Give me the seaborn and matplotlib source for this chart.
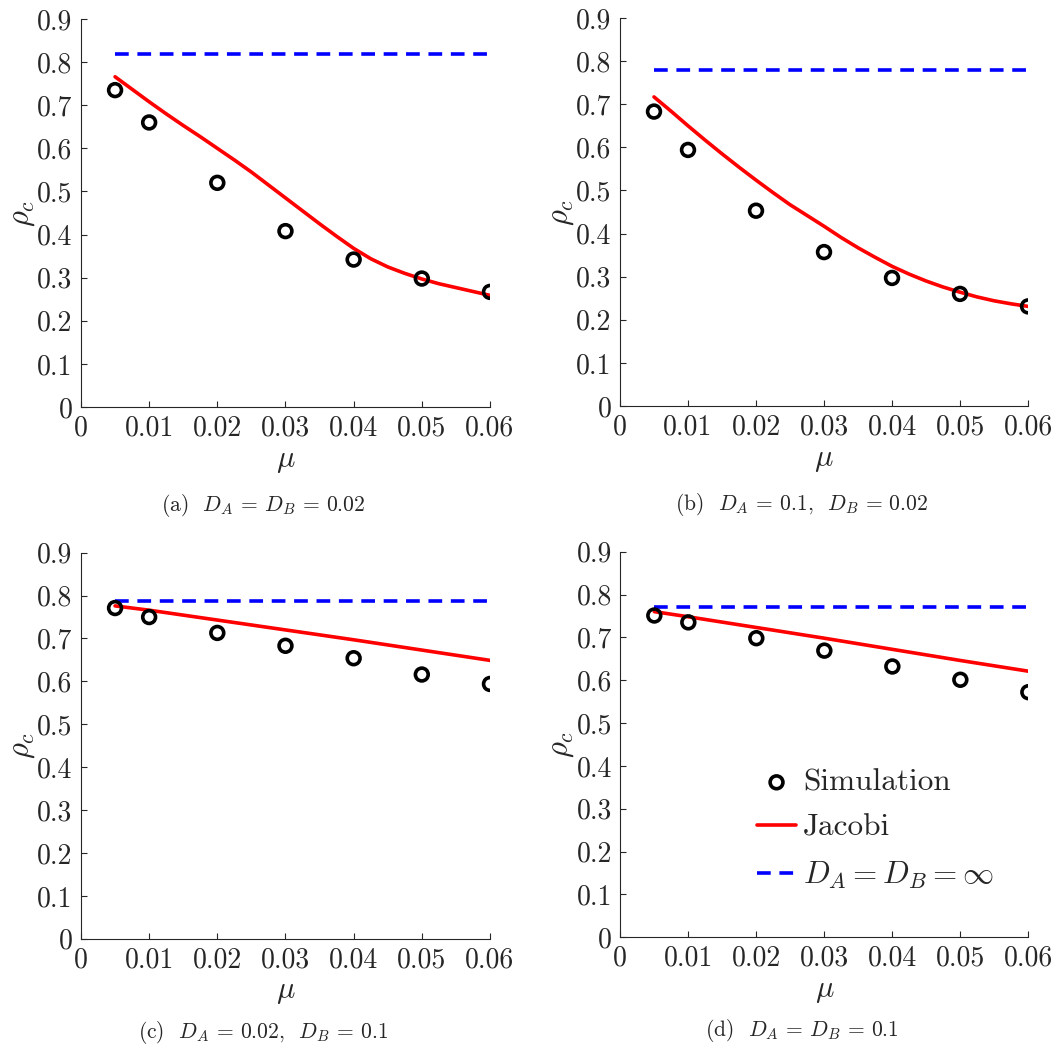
import numpy as np
import pandas as pd
import matplotlib
matplotlib.use("Agg")
import matplotlib.pyplot as plt
import seaborn as sns

sns.set_style("ticks")
plt.rcParams["font.family"] = ["cmr10", "DejaVu Serif"]
plt.rcParams["mathtext.fontset"] = "cm"
plt.rcParams["axes.formatter.use_mathtext"] = True

# mutation rate values of the simulations
mu_sim = [0.005, 0.01, 0.02, 0.03, 0.04, 0.05, 0.06]

# simulation results
sim_a = [0.735, 0.660, 0.520, 0.408, 0.342, 0.298, 0.267]
sim_b = [0.683, 0.594, 0.453, 0.357, 0.297, 0.260, 0.231]
sim_c = [0.771, 0.750, 0.713, 0.683, 0.654, 0.616, 0.594]
sim_d = [0.751, 0.735, 0.698, 0.669, 0.632, 0.601, 0.572]

# Jacobi approximation curves
mu_ab_curve = [0.005, 0.0075, 0.010, 0.0125, 0.015, 0.0175, 0.020, 0.0225,
               0.025, 0.0275, 0.030, 0.0325, 0.035, 0.0375, 0.040, 0.0425,
               0.045, 0.0475, 0.050, 0.0525, 0.055, 0.0575, 0.060]
jac_a = [0.766, 0.737, 0.708, 0.680, 0.653, 0.627, 0.600, 0.573,
         0.545, 0.515, 0.485, 0.455, 0.425, 0.396, 0.368, 0.344,
         0.325, 0.310, 0.297, 0.286, 0.277, 0.268, 0.259]
jac_b = [0.717, 0.684, 0.650, 0.617, 0.585, 0.554, 0.524, 0.495,
         0.467, 0.442, 0.417, 0.391, 0.367, 0.345, 0.324, 0.306,
         0.290, 0.276, 0.264, 0.253, 0.244, 0.237, 0.231]
mu_cd_curve = [0.005, 0.01, 0.02, 0.03, 0.04, 0.05, 0.06]
jac_c = [0.776, 0.766, 0.743, 0.720, 0.697, 0.673, 0.649]
jac_d = [0.760, 0.748, 0.723, 0.698, 0.672, 0.646, 0.621]

# infinite-diffusion limit
inf_level = [0.818, 0.780, 0.788, 0.772]

captions = [r"(a)  $D_A$ = $D_B$ = 0.02",
            r"(b)  $D_A$ = 0.1,  $D_B$ = 0.02",
            r"(c)  $D_A$ = 0.02,  $D_B$ = 0.1",
            r"(d)  $D_A$ = $D_B$ = 0.1"]

xticks = [0, 0.01, 0.02, 0.03, 0.04, 0.05, 0.06]
xtick_labels = ["0", "0.01", "0.02", "0.03", "0.04", "0.05", "0.06"]
yticks = [0, 0.1, 0.2, 0.3, 0.4, 0.5, 0.6, 0.7, 0.8, 0.9]
ytick_labels = ["0", "0.1", "0.2", "0.3", "0.4", "0.5", "0.6", "0.7", "0.8", "0.9"]

panels = [
    (mu_ab_curve, jac_a, sim_a, inf_level[0]),
    (mu_ab_curve, jac_b, sim_b, inf_level[1]),
    (mu_cd_curve, jac_c, sim_c, inf_level[2]),
    (mu_cd_curve, jac_d, sim_d, inf_level[3]),
]

positions = [
    [0.0761, 0.6142, 0.3844, 0.3678],
    [0.5827, 0.6152, 0.3835, 0.3677],
    [0.0761, 0.1102, 0.3844, 0.3659],
    [0.5830, 0.1116, 0.3835, 0.3655],
]
caption_y = [-0.253, -0.253, -0.243, -0.243]

fig = plt.figure(figsize=(10.64, 10.55), dpi=100)

for i, ((mc, jac, sim, inf), pos, cap) in enumerate(zip(panels, positions, captions)):
    ax = fig.add_axes(pos)
    inf_df = pd.DataFrame({"mu": [mu_sim[0], mu_sim[-1]], "rho": [inf, inf]})
    sns.lineplot(data=inf_df, x="mu", y="rho", ax=ax, color="#0000ff", lw=2.6,
                 dashes=False, label=r"$D_A = D_B = \infty$")
    ax.lines[-1].set_dashes((3.8, 2.4))
    jac_df = pd.DataFrame({"mu": mc, "rho": jac})
    sns.lineplot(data=jac_df, x="mu", y="rho", ax=ax, color="#ff0000", lw=2.6,
                 label="Jacobi")
    sim_df = pd.DataFrame({"mu": mu_sim, "rho": sim})
    sns.scatterplot(data=sim_df, x="mu", y="rho", ax=ax, s=85, facecolor="none",
                    edgecolor="black", linewidth=2.6, label="Simulation", zorder=5)

    ax.set_xlim(0, 0.06)
    ax.set_ylim(0, 0.9)
    ax.set_xticks(xticks)
    ax.set_xticklabels(xtick_labels)
    ax.set_yticks(yticks)
    ax.set_yticklabels(ytick_labels)
    ax.tick_params(direction="in", length=4, width=0.8, labelsize=20, pad=6)
    for s in ["top", "right"]:
        ax.spines[s].set_visible(False)
    for s in ["left", "bottom"]:
        ax.spines[s].set_linewidth(0.8)
    ax.set_xlabel(r"$\mu$", fontsize=22, labelpad=4)
    ax.set_ylabel(r"$\rho_c$", fontsize=22, labelpad=0)
    ax.text(0.446, caption_y[i], cap, transform=ax.transAxes, ha="center",
            va="center", fontsize=15.5)

    if i == 3:
        h, l = ax.get_legend_handles_labels()
        order = [l.index("Simulation"), l.index("Jacobi"),
                 l.index(r"$D_A = D_B = \infty$")]
        ax.legend([h[k] for k in order], [l[k] for k in order], loc="center left",
                  bbox_to_anchor=(0.335, 0.279), frameon=False, fontsize=22.5,
                  handlelength=1.25, handletextpad=0.22, labelspacing=0.56,
                  borderaxespad=0, borderpad=0)
    else:
        ax.get_legend().remove()

fig.savefig("out.png", dpi=100)
